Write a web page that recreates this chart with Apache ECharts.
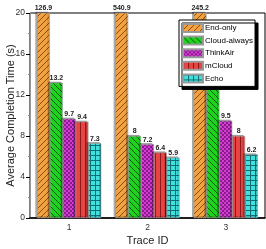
<!DOCTYPE html>
<html><head><meta charset="utf-8">
<script src="https://cdn.jsdelivr.net/npm/echarts@6/dist/echarts.min.js"></script>
<style>html,body{margin:0;padding:0;background:#fff}#c{width:266px;height:249px}</style>
</head><body><div id="c"></div>
<script>
const categories = ['1', '2', '3'];
const seriesNames = ['End-only', 'Cloud-always', 'ThinkAir', 'mCloud', 'Echo'];
const endOnly = [126.9, 540.9, 245.2];
const cloudAlways = [13.2, 8, 12.7];
const thinkAir = [9.7, 7.2, 9.5];
const mCloud = [9.4, 6.4, 8];
const echo = [7.3, 5.9, 6.2];
const yTicks = [0, 4, 8, 12, 16, 20];

function pat(kind) {
  const c = document.createElement('canvas');
  const s = 6; c.width = s; c.height = s;
  const g = c.getContext('2d');
  if (kind === 'orange') {
    g.fillStyle = '#f2a23f'; g.fillRect(0,0,s,s);
    g.strokeStyle = '#8a4a10'; g.lineWidth = 1;
    g.beginPath(); g.moveTo(0,s); g.lineTo(s,0); g.moveTo(-s/2,s/2); g.lineTo(s/2,-s/2); g.moveTo(s/2,s*1.5); g.lineTo(s*1.5,s/2); g.stroke();
  } else if (kind === 'green') {
    g.fillStyle = '#1fd21f'; g.fillRect(0,0,s,s);
    g.strokeStyle = '#0a5a0a'; g.lineWidth = 1;
    g.beginPath(); g.moveTo(0,0); g.lineTo(s,s); g.moveTo(-s/2,s/2); g.lineTo(s/2,s*1.5); g.moveTo(s/2,-s/2); g.lineTo(s*1.5,s/2); g.stroke();
  } else if (kind === 'magenta') {
    c.width = 4; c.height = 4;
    g.fillStyle = '#d63cd6'; g.fillRect(0,0,4,4);
    g.fillStyle = '#8a1c8a'; g.fillRect(0,0,2,2); g.fillRect(2,2,2,2);
  } else if (kind === 'red') {
    c.width = 5; c.height = 5;
    g.fillStyle = '#e84444'; g.fillRect(0,0,5,5);
    g.fillStyle = '#8c1a1a'; g.fillRect(0,0,1,5);
  } else if (kind === 'cyan') {
    c.width = 5; c.height = 5;
    g.fillStyle = '#3ee0e0'; g.fillRect(0,0,5,5);
    g.fillStyle = '#136f6f'; g.fillRect(0,0,5,1); g.fillRect(0,0,1,5);
  }
  return {image: c, repeat: 'repeat'};
}
const patterns = [pat('orange'), pat('green'), pat('magenta'), pat('red'), pat('cyan')];
const seriesData = [endOnly, cloudAlways, thinkAir, mCloud, echo];

const chart = echarts.init(document.getElementById('c'), null, {renderer: 'canvas'});
chart.setOption({
  animation: false,
  textStyle: {fontFamily: 'Liberation Sans, Arial, sans-serif'},
  grid: {left: 30, right: 1, top: 13, bottom: 31, show: true, borderColor: '#000', borderWidth: 1,
    containLabel: false, outerBoundsMode: 'none'},
  legend: {
    orient: 'vertical', left: 179, top: 20,
    itemWidth: 20, itemHeight: 8, itemGap: 2.6,
    padding: [3, 2, 3, 3],
    backgroundColor: '#fff', borderColor: '#000', borderWidth: 1,
    shadowColor: '#000', shadowOffsetX: 3, shadowOffsetY: 3, shadowBlur: 0,
    textStyle: {fontSize: 8, color: '#000', padding: [0, 0, 0, -3]},
    icon: 'rect',
    data: seriesNames
  },
  xAxis: {
    type: 'category', data: categories,
    name: 'Trace ID', nameLocation: 'middle', nameGap: 17, nameMoveOverlap: false,
    nameTextStyle: {fontSize: 11, color: '#222'},
    axisLine: {lineStyle: {color: '#000', width: 1.5}},
    axisTick: {show: false},
    axisLabel: {fontSize: 8.5, color: '#333', margin: 5}
  },
  yAxis: {
    type: 'value', min: yTicks[0], max: yTicks[yTicks.length - 1], interval: 4,
    name: 'Average Completion Time (s)', nameLocation: 'middle', nameGap: 14, nameMoveOverlap: false,
    nameTextStyle: {fontSize: 11, color: '#222'},
    axisLine: {show: true, lineStyle: {color: '#999', width: 1}},
    axisTick: {show: true, length: 4, lineStyle: {color: '#000'}},
    minorTick: {show: true, splitNumber: 2, length: 2, lineStyle: {color: '#888'}},
    splitLine: {show: false},
    axisLabel: {fontSize: 8.5, color: '#333', margin: 5}
  },
  series: seriesNames.map((n, i) => ({
    name: n, type: 'bar', data: seriesData[i],
    barGap: '0%', barCategoryGap: '18%',
    clip: true,
    itemStyle: {color: patterns[i], borderColor: '#999', borderWidth: 0.6,
      shadowColor: 'rgba(0,0,0,0.35)', shadowOffsetX: -1.5, shadowOffsetY: -1, shadowBlur: 0},
    label: {show: true, position: 'top', distance: 1, fontSize: 7, fontWeight: 'bold', color: '#222'}
  }))
});
</script></body></html>
